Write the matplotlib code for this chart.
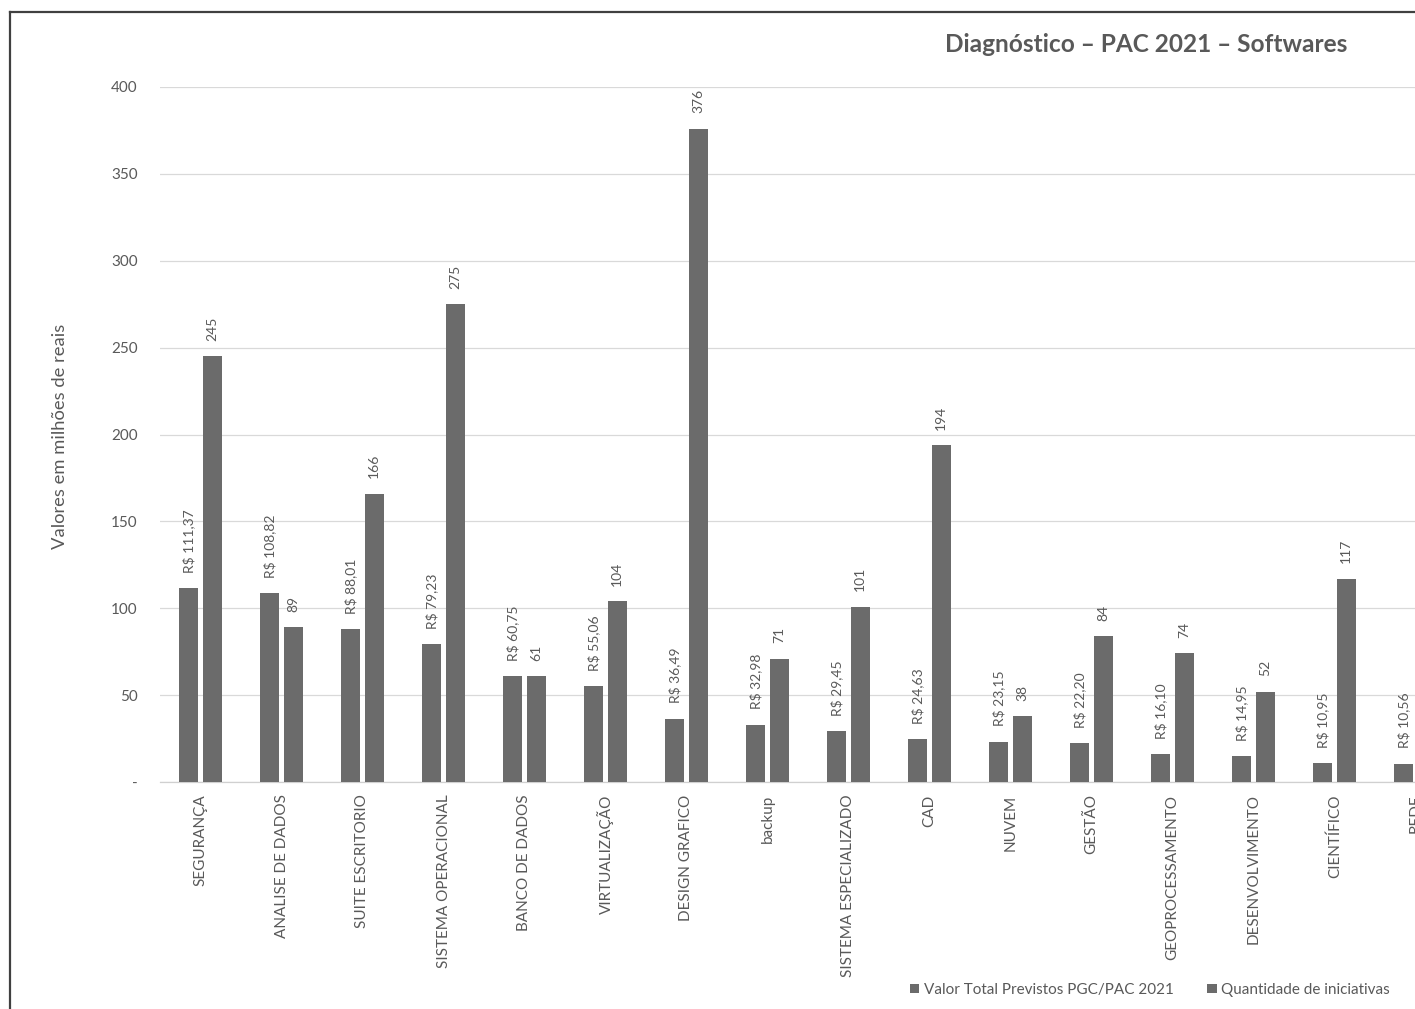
import numpy as np
import matplotlib
matplotlib.use("Agg")
import matplotlib.pyplot as plt
from matplotlib.patches import Patch
from matplotlib.lines import Line2D

plt.rcParams['font.family'] = ['Lato', 'DejaVu Sans']

categories = ["SEGURANÇA", "ANALISE DE DADOS", "SUITE ESCRITORIO", "SISTEMA OPERACIONAL",
              "BANCO DE DADOS", "VIRTUALIZAÇÃO", "DESIGN GRAFICO", "backup",
              "SISTEMA ESPECIALIZADO", "CAD", "NUVEM", "GESTÃO", "GEOPROCESSAMENTO",
              "DESENVOLVIMENTO", "CIENTÍFICO", "REDE"]
valor_total = [111.37, 108.82, 88.01, 79.23, 60.75, 55.06, 36.49, 32.98, 29.45,
               24.63, 23.15, 22.20, 16.10, 14.95, 10.95, 10.56]
quantidade = [245, 89, 166, 275, 61, 104, 376, 71, 101, 194, 38, 84, 74, 52, 117, np.nan]
y_ticks = [0, 50, 100, 150, 200, 250, 300, 350, 400]
y_tick_labels = ["-", "50", "100", "150", "200", "250", "300", "350", "400"]

W, H = 1415, 1009
fig = plt.figure(figsize=(W / 100, H / 100), dpi=100)
fig.patch.set_facecolor("white")

# plot area runs past the right edge of the canvas
ax_left, ax_right, ax_top, ax_bottom = 160, 1456, 87, 782
ax = fig.add_axes([ax_left / W, 1 - ax_bottom / H, (ax_right - ax_left) / W, (ax_bottom - ax_top) / H])

bar_color = "#6b6b6b"
text_color = "#595959"
x = np.arange(len(categories))
bw = 0.235
off = 0.145

ax.bar(x - off, valor_total, width=bw, color=bar_color, zorder=3)
ax.bar(x + off, quantidade, width=bw, color=bar_color, zorder=3)

for xi, v in zip(x, valor_total):
    lbl = "R$ " + f"{v:.2f}".replace(".", ",")
    ax.annotate(lbl, (xi - off, v), xytext=(0, 11), textcoords="offset points",
                rotation=90, ha="center", va="bottom", fontsize=10, color=text_color,
                annotation_clip=False)
for xi, q in zip(x, quantidade):
    if np.isnan(q):
        continue
    ax.annotate(f"{int(q)}", (xi + off, q), xytext=(0, 11), textcoords="offset points",
                rotation=90, ha="center", va="bottom", fontsize=10, color=text_color,
                annotation_clip=False)

ax.set_xlim(-0.5, len(categories) - 0.5)
ax.set_ylim(0, 400)
ax.set_yticks(y_ticks)
ax.set_yticklabels(y_tick_labels)
ax.set_xticks(x)
ax.set_xticklabels(categories, rotation=90, va="top", ha="center")
ax.tick_params(axis="y", length=0, pad=16, labelsize=11, labelcolor=text_color)
ax.tick_params(axis="x", length=0, pad=9, labelsize=11, labelcolor=text_color)
ax.grid(axis="y", color="#d9d9d9", linewidth=0.9, zorder=0)
for s in ["left", "right", "top"]:
    ax.spines[s].set_visible(False)
ax.spines["bottom"].set_color("#d0d0d0")
ax.spines["bottom"].set_linewidth(0.9)

fig.text(60 / W, 1 - 436 / H, "Valores em milhões de reais", rotation=90,
         ha="center", va="center", fontsize=13.2, color=text_color)
fig.text(1146 / W, 1 - 45 / H, "Diagnóstico – PAC 2021 – Softwares",
         ha="center", va="center", fontsize=17.6, fontweight="bold", color=text_color)

handles = [Patch(facecolor=bar_color, edgecolor="none"),
           Patch(facecolor=bar_color, edgecolor="none")]
fig.legend(handles, ["Valor Total Previstos PGC/PAC 2021", "Quantidade de iniciativas"],
           loc="center", bbox_to_anchor=(1150 / W, 1 - 990 / H), ncol=2, frameon=False,
           fontsize=11, handlelength=0.6, handleheight=0.6, handletextpad=0.3,
           columnspacing=2.2, labelcolor=text_color)

# outer frame (left and top edges visible)
fig.add_artist(Line2D([10 / W, 10 / W], [0, 1 - 12 / H], transform=fig.transFigure,
                      color="#404040", linewidth=1.6))
fig.add_artist(Line2D([10 / W, 1], [1 - 12 / H, 1 - 12 / H], transform=fig.transFigure,
                      color="#404040", linewidth=1.6))

fig.savefig("out.png", dpi=100, facecolor="white")
